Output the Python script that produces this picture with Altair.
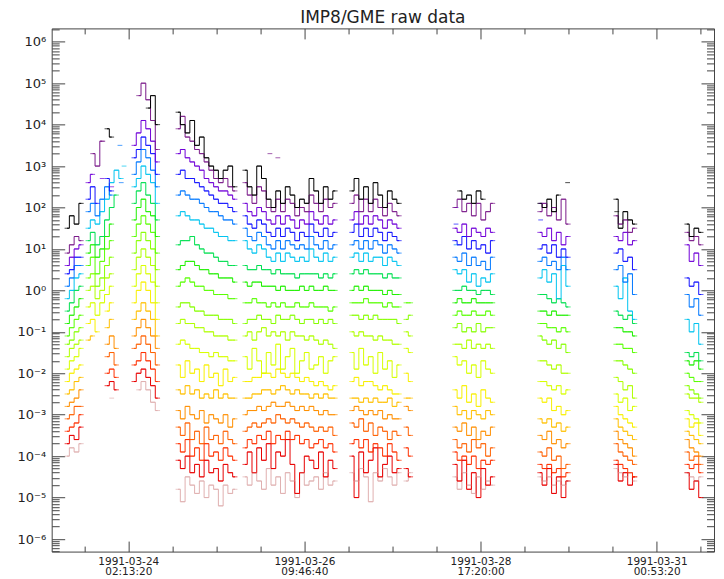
import altair as alt
import pandas as pd

N = None

# ---- channels (top to bottom), IDL rainbow+white style colours ----
channel_colors = ["#000000", "#7a1a8a", "#7000d8", "#1414ff", "#0078ff", "#00c4f0",
                  "#00e050", "#20f000", "#58ff00", "#88ff00", "#b0ff00", "#d8ff00",
                  "#f8f000", "#ffc000", "#ff9000", "#ff6000", "#ff3000", "#e80000", "#e0b0b0"]
channel_names = ["ch%02d" % i for i in range(len(channel_colors))]

# time in hours after 1991-03-23 00:00, samples every 1.5 h
step_hours = 1.5
seg_starts = [6.9, 13.5, 28.0, 41.9, 63.0, 96.7, 113.8, 129.2, 156.0, 180.0, 202.4]

# values: 10*log10(counts)
seg_a = [
    [15, 18, 16, 21], [9, 11, 13, 12], [6, 8, 10, 11], [4, 5, 8, 8], [1, 3, 6, 6],
    [-2, 0, 3, 4], [-5, -3, 0, 1], [-8, -6, -4, -2], [-11, -9, -7, -6], [-13, -12, -10, -9],
    [-16, -14, -13, -12], [-19, -17, -16, -14], [-22, -20, -19, -18], [-25, -24, -22, -21],
    [-28, -27, -26, -24], [-31, -30, -28, -28], [-34, -33, -32, -30], [-37, -35, -36, -33],
    [-40, -38, -39, -37],
]
seg_b = [
    [N, N, N, N, 39, 37, N, N, N], [N, 33, 30, 36, N, N, N, N, N], [26, 28, N, 27, N, 25, N, N, N],
    [22, 25, 21, N, 27, 24, N, N, N], [19, 21, 18, 22, 25, 23, N, 26, N], [15, 17, 16, 19, 22, 26, 29, 27, N],
    [12, 14, 11, 13, 17, 20, 23, N, N], [9, 11, 8, 10, 13, 16, N, N, N], [6, 8, 4, 7, 10, 12, N, N, N],
    [3, 4, 1, 3, 6, 8, N, N, N], [0, 1, -2, 0, 3, 4, N, N, N], [-4, -3, -6, -3, -1, 1, N, N, N],
    [-8, -7, -10, N, -5, -3, N, N, N], [-12, -11, N, N, -9, -7, N, N, N], [N, N, N, N, -13, -11, -14, N, N],
    [N, N, N, N, -16, -15, -18, N, N], [N, N, N, N, -20, -19, -21, N, N], [N, N, N, N, -23, -22, -24, N, N],
    [N, N, N, N, N, -26, N, N, N],
]
seg_c = [
    [N, N, N, 44, 47, 40], [N, 47, 50, 46, 41, 34], [35, 38, 41, 39, 36, 31], [32, 34, 37, 35, 33, 28],
    [28, 31, 34, 32, 29, 25], [25, 27, 30, 28, 26, 21], [21, 24, 26, 23, 21, 17], [17, 20, 22, 19, 18, 13],
    [13, 16, 18, 16, 14, 9], [9, 12, 14, 12, 10, 5], [5, 8, 10, 8, 6, 1], [1, 4, 6, 4, 2, -3],
    [-3, 0, 2, 0, -3, -7], [-7, -5, -3, -5, -7, -11], [-11, -9, -7, -9, -11, -14], [-14, -13, -11, -13, -15, -18],
    [-18, -17, -15, -17, -19, -22], [-22, -20, -19, -21, -23, -26], [N, -24, -22, -24, -27, -29],
]
seg_d = [
    [43, 40, 38, 41, 35, 37, 32, 30, 29, 27, 29, 30, 25],
    [39, 42, 37, 36, 34, 33, 31, 29, 27, 26, 27, 25, 24],
    [33, 34, 32, 31, 30, 29, 27, 26, 25, 24, 24, 23, 22],
    [28, 29, 27, 27, 26, 25, 24, 23, 22, 21, 21, 20, 19],
    [23, 24, 23, 22, 22, 21, 20, 19, 19, 18, 17, 17, 16],
    [18, 19, 18, 17, 17, 16, 15, 15, 14, 13, 13, 12, 12],
    [11, 12, 12, 13, 11, 10, 9, 9, 8, 7, 7, 6, 6],
    [5, 6, 7, 7, 6, 5, 5, 4, 4, 3, 3, 3, 2],
    [1, 2, 3, 2, 1, 1, 0, 0, -1, -1, -1, -2, -2],
    [-4, -3, -3, -4, -5, -5, -6, -6, -6, -7, -7, -7, -8],
    [-8, -7, -8, -8, -9, -9, -10, -10, -11, -11, -11, -12, -12],
    [-13, -12, -13, -14, -14, -15, -15, -16, -15, -16, -16, -17, -17],
    [-18, -21, -17, -20, -19, -22, -18, -21, -20, -23, -19, -22, -21],
    [-24, -25, -23, -25, -24, -26, -25, -26, -24, -26, -25, -26, -26],
    [-29, -31, -28, -30, -31, -29, -32, -30, -31, -32, -30, -33, -31],
    [-33, -35, -32, -36, -34, -37, -33, -36, -35, -37, -34, -36, -37],
    [-37, -39, -36, -40, -38, -41, -37, -40, -39, -41, -38, -40, -41],
    [-41, -43, -40, -44, -42, -45, -41, -44, -43, -46, -42, -44, -45],
    [-48, -51, -45, -47, -49, -46, -50, -47, -48, -52, -47, -49, -48],
]
seg_e = [
    [29, 25, 23, 30, 27, 22, 20, 24, 21, 25, 23, 20, 22, 21, 27, 24, 21, 25, 22, 24],
    [26, 23, 21, 25, 24, 20, 19, 22, 19, 22, 21, 18, 20, 19, 23, 21, 19, 22, 20, 21],
    [21, 19, 18, 20, 19, 17, 16, 18, 16, 18, 17, 15, 17, 16, 19, 17, 16, 18, 16, 17],
    [18, 16, 15, 17, 16, 14, 13, 15, 13, 15, 14, 12, 14, 13, 16, 14, 13, 15, 13, 14],
    [15, 13, 12, 14, 13, 11, 10, 12, 10, 12, 11, 10, 11, 10, 13, 11, 10, 12, 10, 11],
    [12, 10, 9, 11, 10, 8, 7, 9, 7, 9, 8, 7, 8, 7, 10, 8, 7, 9, 7, 8],
    [6, 5, 5, 6, 5, 5, 4, 5, 4, 4, 4, 3, 4, 4, 4, 4, 3, 4, 3, 4],
    [2, 1, 2, 2, 1, 1, 1, 0, 1, 0, 0, 0, 1, 0, 1, 0, 0, 1, 0, 0],
    [-3, -3, -2, -3, -3, -4, -3, -4, -3, -4, -4, -3, -4, -4, -3, -4, -4, -4, -5, -4],
    [-8, -7, -7, -6, -7, -7, -8, -6, -7, -7, -6, -7, -8, -7, -7, -8, -7, -8, -7, -8],
    [-11, -10, -12, -10, -9, -11, -10, -11, -10, -12, -10, -11, -11, -12, -11, -12, -13, -12, -13, -14],
    [-16, -19, -14, -17, -20, -15, -18, -13, -19, -16, -14, -20, -17, -15, -19, -18, -16, -20, -17, -16],
    [-22, -22, -21, -21, -20, -20, -21, -19, -20, -21, -20, -21, -22, -21, -22, -23, -22, -23, -24, -23],
    [-26, -26, -25, -25, -24, -24, -25, -24, -23, -24, -25, -24, -25, -25, -26, -25, -26, -25, -26, -26],
    [-30, -29, -29, -28, -29, -28, -27, -28, -28, -27, -28, -29, -28, -29, -28, -29, -30, -29, -30, -30],
    [-34, -33, -32, -33, -32, -31, -32, -30, -31, -32, -31, -32, -33, -32, -33, -34, -33, -34, -33, -35],
    [-38, -36, -37, -35, -36, -34, -37, -35, -36, -34, -36, -35, -37, -36, -38, -37, -36, -38, -37, -39],
    [-42, -39, -44, -38, -41, -37, -43, -39, -40, -36, -42, -49, -44, -40, -41, -43, -39, -45, -41, -43],
    [-45, -47, -44, -46, -48, -43, -47, -45, -49, -44, -46, -50, -44, -47, -46, -45, -48, -44, -47, -46],
]
seg_f = [
    [24, 27, 22, 25, 21, 26, 23, 20, 24, 22, 21],
    [21, 23, 19, 22, 19, 22, 20, 18, 21, 19, 18],
    [17, 19, 16, 18, 16, 18, 17, 15, 17, 16, 15],
    [14, 16, 13, 15, 13, 15, 14, 12, 14, 13, 12],
    [11, 12, 10, 12, 10, 12, 11, 9, 11, 10, 9],
    [8, 9, 7, 9, 7, 8, 8, 6, 8, 7, 6],
    [4, 5, 4, 5, 4, 4, 4, 3, 4, 3, 3],
    [0, 1, 0, 1, 0, 0, 0, -1, 0, -1, -1],
    [-3, -3, -3, -2, -3, -3, -3, -4, -3, -4, -4],
    [-6, -6, -7, -6, -7, -6, -7, -7, -7, -7, -8],
    [-10, -11, -10, -11, -11, -12, -11, -12, -12, -13, -13],
    [-15, -19, -14, -18, -16, -20, -15, -19, -17, -21, -18],
    [-22, -21, -23, -22, -22, -23, -24, -23, -24, -25, -25],
    [-26, -26, -27, -26, -27, -26, -27, -27, -26, -28, -27],
    [-29, -28, -29, -30, -29, -30, -29, -31, -30, -31, -31],
    [-32, -33, -31, -34, -32, -35, -33, -34, -36, -34, -35],
    [-37, -36, -38, -36, -39, -37, -38, -40, -37, -39, -41],
    [-40, -50, -39, -44, -41, -38, -45, -42, -40, -44, -43],
    [-44, -46, -43, -45, -51, -44, -46, -43, -45, -47, -44],
]
seg_f2 = [
    [N, N], [N, N], [N, N], [N, N], [N, N], [N, N], [N, N], [N, N],
    [-3, -3], [-7, -6], [-10, -11], [-14, -15], [-20, -22], [-26, -26], [-28, -29],
    [-33, -35], [-38, -40], [-43, -45], [-46, -44],
]
seg_g = [
    [N, 24, 22, 23, 21, 24, 22, N, N],
    [20, 22, 19, 21, 18, 21, 17, 19, 21],
    [15, 14, 16, 13, 15, 14, 13, 15, 14],
    [12, 11, 13, 10, 12, 10, 11, 9, 12],
    [8, 7, 9, 6, 8, 6, 7, 5, 8],
    [5, 4, 5, 2, 4, 1, 3, 2, 4],
    [0, 0, 1, 0, 0, -1, 0, 0, -1],
    [-3, -2, -3, -3, -2, -3, -3, -3, -3],
    [-6, -5, -6, -6, -5, -6, -6, -5, -6],
    [-9, -8, -10, -9, -10, -8, -10, -9, -9],
    [-13, -13, -14, -12, -14, -13, -14, -13, -14],
    [-16, -18, -17, -20, -18, -21, -17, -19, -20],
    [-24, -26, -23, -27, -25, -28, -24, -26, -27],
    [-28, -30, -29, -31, -29, -30, -31, -29, -30],
    [-33, -34, -32, -35, -33, -36, -34, -35, -33],
    [-36, -38, -37, -39, -36, -38, -37, -40, -38],
    [-39, -41, -40, -42, -40, -43, -41, -42, -41],
    [-42, -46, -41, -48, -44, -50, -43, -47, -45],
    [-45, -48, -44, -47, -49, -45, -48, -46, -47],
]
seg_h = [
    [21, 20, 22, 19, 23, N, N],
    [19, 21, 18, 20, 17, 22, 16],
    [14, 13, 15, 12, 14, 11, 13],
    [10, 11, 9, 11, 8, 10, 8],
    [7, 8, 6, 7, 5, 8, 5],
    [3, 5, 2, 4, -2, 6, 1],
    [-1, -1, -2, -3, -2, -3, -4],
    [-5, -5, -6, -5, -6, -6, -6],
    [-8, -8, -9, -9, -10, -9, -10],
    [-11, -12, -13, -12, -14, -13, -15],
    [-17, -17, -18, -19, -18, -20, -20],
    [-22, -22, -23, -24, -23, -25, -24],
    [-26, -27, -26, -29, -28, -30, -29],
    [-31, -32, -31, -33, -32, -34, -33],
    [-35, -36, -34, -37, -36, -38, -37],
    [-39, -40, -38, -41, -40, -43, -42],
    [-42, -43, -42, -44, -43, -45, -44],
    [-44, -47, -43, -49, -45, -50, -46],
    [-45, -46, -45, -47, -46, -47, -46],
]
seg_i = [
    [22, 15, 19, 17, 16], [18, 16, 17, 14, 15], [13, 12, 14, 11, 12], [9, 10, 7, 8, 5],
    [5, 6, 2, 4, -1], [1, -2, 3, -5, -7], [-5, -6, -7, -6, -8], [-9, -9, -10, -10, -11],
    [-13, -13, -14, -14, -15], [-17, -17, -18, -19, -20], [-21, -22, -24, -23, -26],
    [-25, -27, -26, -29, -28], [-28, -30, -31, -32, -33], [-31, -33, -34, -35, -36],
    [-34, -36, -37, -38, -40], [-37, -39, -40, -41, -42], [-41, -42, -43, -44, -45],
    [-42, -46, -44, -47, -45], [-43, -44, -45, -44, -46],
]
seg_j = [
    [16, 13, 15, 14], [14, 12, 13, 11], [11, 7, 9, 6], [3, 1, 2, -1], [-1, -4, -2, -6],
    [-7, -10, -8, -13], [-15, -16, -15, -17], [-17, -18, -17, -19], [-20, -21, -22, -22],
    [-23, -24, -25, -26], [-25, -26, -26, -27], [-29, -30, -31, -32], [-31, -33, -32, -35],
    [-34, -35, -36, -37], [-36, -38, -39, -40], [-39, -41, -40, -42], [-42, -43, -42, -44],
    [-44, -48, -46, -50], [-44, -45, -46, -45],
]
segments = [seg_a, seg_b, seg_c, seg_d, seg_e, seg_f, seg_f2, seg_g, seg_h, seg_i, seg_j]

# isolated single samples (drawn as short dashes)
iso_t = [70.9, 73.4, 164.8, 129.6, 129.6, 129.6, 156.3, 156.3, 180.3, 23.6, 24.9, 18.2]
iso_ch = [1, 1, 0, 2, 3, 4, 2, 3, 0, 4, 5, 1]
iso_v = [33, 32, 26, 20, 16, 11, 21, 17, 19, 35, 30, 36]

# ---- axis ticks and labels ----
x_major = [26.2222, 81.7778, 137.3333, 192.8889]
x_minor = [12.3333, 40.1111, 54.0, 67.8889, 95.6667, 109.5556, 123.4444,
           151.2222, 165.1111, 179.0, 206.7778]
x_dates = ["1991-03-24", "1991-03-26", "1991-03-28", "1991-03-31"]
x_times = ["02:13:20", "09:46:40", "17:20:00", "00:53:20"]
y_exponents = [-6, -5, -4, -3, -2, -1, 0, 1, 2, 3, 4, 5, 6]
y_labels = ["10⁻⁶", "10⁻⁵", "10⁻⁴", "10⁻³", "10⁻²", "10⁻¹", "10⁰",
            "10¹", "10²", "10³", "10⁴", "10⁵", "10⁶"]
x_domain = [2.07, 210.97]
y_domain = [4.97e-7, 2.1e6]

# ---- build table ----
rows = []
for s, (t0, seg) in enumerate(zip(seg_starts, segments)):
    for c, series in enumerate(seg):
        run = 0
        prev = None
        for i, v in enumerate(series):
            if v is None:
                if prev is not None:
                    run += 1
                prev = None
                continue
            rows.append({"t": t0 + i * step_hours, "val": 10 ** (v / 10.0),
                         "ch": channel_names[c], "ci": c, "run": "%d_%d_%d" % (s, c, run)})
            prev = v
df = pd.DataFrame(rows).sort_values(["ci", "t"], ascending=[False, True])
iso_df = pd.DataFrame({"t": iso_t, "val": [10 ** (v / 10.0) for v in iso_v],
                       "ch": [channel_names[c] for c in iso_ch], "ci": iso_ch})
dash_df = pd.concat([df[["t", "val", "ch", "ci"]], iso_df]).sort_values("ci", ascending=False)

y_major = [10.0 ** e for e in y_exponents]
y_minor = [k * 10.0 ** n for n in range(-7, 7) for k in range(2, 10)
           if y_domain[0] <= k * 10.0 ** n <= y_domain[1]]

x_expr = ""
bounds = [54.0, 109.5, 165.1]
for i in range(3):
    x_expr += "datum.value < %g ? ['%s', '%s'] : " % (bounds[i], x_dates[i], x_times[i])
x_expr += "['%s', '%s']" % (x_dates[3], x_times[3])
y_expr = "[" + ",".join("'%s'" % s for s in y_labels) + "][round(log(datum.value)/LN10)+6]"

xs = alt.Scale(domain=x_domain, nice=False, zero=False)
ys = alt.Scale(type="log", domain=y_domain, nice=False)
col = alt.Color("ch:N", scale=alt.Scale(domain=channel_names, range=channel_colors), legend=None)

tick_col = "#444444"
base_axis = dict(domain=False, grid=False, tickColor=tick_col, tickWidth=1, title=None,
                 labelOverlap=False, labelFlush=False, minExtent=0)

x_bottom_major = alt.Axis(orient="bottom", values=x_major, tickSize=10.5, offset=-10.5,
                          labelExpr=x_expr, labelFont="DejaVu Sans", labelFontSize=10.5,
                          labelLineHeight=10.5, labelPadding=4.5, labelColor="#222222", **base_axis)
y_left_major = alt.Axis(orient="left", values=y_major, tickSize=13, offset=-13,
                        labelExpr=y_expr, labelFont="DejaVu Sans", labelFontSize=13,
                        labelPadding=6, labelColor="#222222", **base_axis)
x_bottom_minor = alt.Axis(orient="bottom", values=x_minor, tickSize=5.5, offset=-5.5,
                          labels=False, **base_axis)
y_left_minor = alt.Axis(orient="left", values=y_minor, tickSize=7.5, offset=-7.5,
                        labels=False, **base_axis)
x_top_major = alt.Axis(orient="top", values=x_major, tickSize=10.5, offset=-10.5,
                       labels=False, **base_axis)
y_right_major = alt.Axis(orient="right", values=y_major, tickSize=13, offset=-13,
                         labels=False, **base_axis)
x_top_minor = alt.Axis(orient="top", values=x_minor, tickSize=5.5, offset=-5.5,
                       labels=False, **base_axis)
y_right_minor = alt.Axis(orient="right", values=y_minor, tickSize=7.5, offset=-7.5,
                         labels=False, **base_axis)

lines = alt.Chart(df).mark_line(interpolate="step", strokeWidth=1.0).encode(
    x=alt.X("t:Q", scale=xs, axis=x_bottom_major),
    y=alt.Y("val:Q", scale=ys, axis=y_left_major),
    color=col,
    detail="run:N",
)
dashes = alt.Chart(dash_df).mark_tick(orient="horizontal", size=4.8, thickness=1.0).encode(
    x=alt.X("t:Q", scale=xs, axis=None),
    y=alt.Y("val:Q", scale=ys, axis=None),
    color=col,
)

carrier_df = pd.DataFrame({"t": [100.0], "val": [1.0]})


def carrier(xa, ya):
    return alt.Chart(carrier_df).mark_point(opacity=0).encode(
        x=alt.X("t:Q", scale=xs, axis=xa),
        y=alt.Y("val:Q", scale=ys, axis=ya),
    )


chart = alt.layer(
    lines, dashes,
    carrier(x_bottom_minor, y_left_minor),
    carrier(x_top_major, y_right_major),
    carrier(x_top_minor, y_right_minor),
).resolve_axis(x="independent", y="independent").properties(
    width=662.6,
    height=523.4,
    autosize=alt.AutoSizeParams(type="none"),
    padding={"left": 43.7, "top": 20.3, "right": 2, "bottom": 27},
    title=alt.TitleParams("IMP8/GME raw data", font="DejaVu Sans", fontSize=17,
                          fontWeight="normal", color="#222222", offset=0, dy=12,
                          baseline="alphabetic", anchor="middle", frame="group"),
).configure_view(stroke=tick_col, strokeWidth=1)

chart.save("out.html", embed_options={"renderer": "svg", "actions": False})
